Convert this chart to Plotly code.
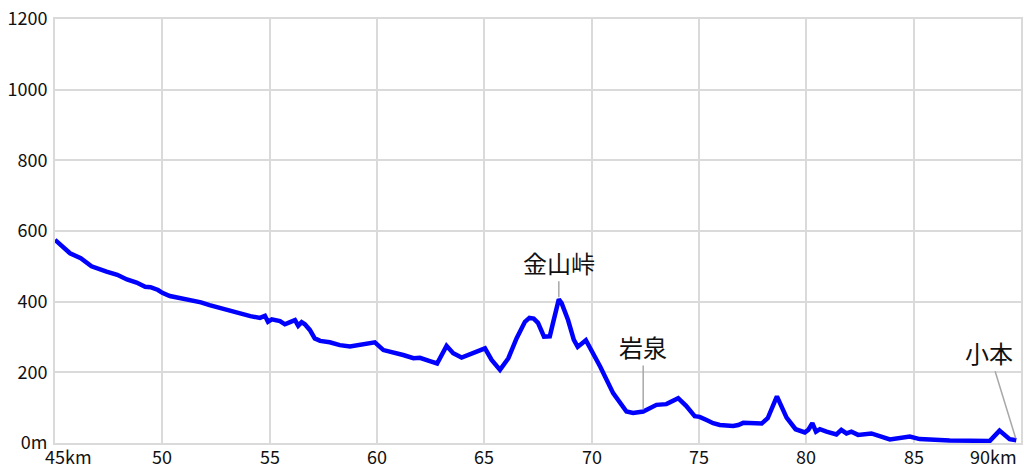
import plotly.graph_objects as go

# distance (km) and elevation (m)
dist_km = [45.0, 45.3, 45.5, 45.7, 46.2, 46.55, 46.7, 47.4, 47.9, 48.35, 48.8, 49.2, 49.45, 49.8,
           50.0, 50.35, 50.8, 51.3, 51.8, 52.2, 52.7, 53.15, 53.6, 54.1, 54.55, 54.78, 54.92,
           55.1, 55.48, 55.71, 55.95, 56.18, 56.33, 56.49, 56.64, 56.87, 57.1, 57.35, 57.8,
           58.27, 58.74, 59.2, 59.67, 59.9, 60.3, 60.76, 61.22, 61.7, 62.0, 62.46, 62.8,
           63.24, 63.55, 63.94, 64.48, 65.03, 65.34, 65.73, 66.12, 66.5, 66.89, 67.1, 67.3,
           67.5, 67.78, 68.05, 68.2, 68.47, 68.6, 68.9, 69.17, 69.35, 69.73, 70.0, 70.4,
           71.0, 71.62, 71.93, 72.4, 73.02, 73.48, 74.03, 74.4, 74.8, 75.03, 75.35, 75.66,
           75.97, 76.59, 76.83, 77.06, 77.92, 78.2, 78.63, 79.08, 79.5, 79.93, 80.09, 80.28,
           80.45, 80.63, 80.94, 81.4, 81.63, 81.87, 82.1, 82.41, 83.03, 83.42, 83.89, 84.82,
           85.28, 85.75, 86.68, 88.55, 89.0, 89.47, 89.78]
elev_m = [575, 560, 550, 537, 523, 509, 500, 485, 476, 463, 454, 442, 441, 433,
          425, 416, 411, 405, 398, 390, 382, 375, 365, 359, 354, 360, 343,
          350, 345, 336, 342, 348, 332, 342, 336, 320, 296, 289, 285,
          277, 273, 277, 280, 285, 263, 257, 249, 240, 241, 232, 225,
          275, 254, 242, 254, 268, 235, 207, 240, 296, 343, 354, 352,
          340, 301, 302, 340, 407, 396, 348, 292, 272, 291, 263, 216,
          141, 89, 85, 89, 108, 110, 127, 105, 76, 74, 65, 56,
          51, 48, 51, 57, 55, 70, 132, 72, 39, 30, 37, 56,
          32, 39, 32, 24, 37, 27, 32, 23, 27, 18, 10, 18,
          11, 10, 7, 6, 35, 11, 8]

# place labels
place_names = ["金山峠", "岩泉", "小本"]
place_km = [68.47, 72.4, 89.78]
place_elev = [407, 89, 8]
place_offsets = [(0, -37), (0, -65), (-27, -88)]

x_tick_vals = [45, 50, 55, 60, 65, 70, 75, 80, 85, 90]
x_tick_text = ["45km", "50", "55", "60", "65", "70", "75", "80", "85", "90km"]
y_tick_vals = [0, 200, 400, 600, 800, 1000, 1200]
y_tick_text = ["0m", "200", "400", "600", "800", "1000", "1200"]

FONT = "Noto Sans CJK JP"
GRID = "#dadada"

fig = go.Figure()
fig.add_trace(go.Scatter(x=dist_km, y=elev_m, mode="lines",
                         line=dict(color="#0000ff", width=4.5), hoverinfo="skip"))

annotations = []
for name, xk, ye, (ax, ay) in zip(place_names, place_km, place_elev, place_offsets):
    annotations.append(dict(x=xk, y=ye, xref="x", yref="y", text=name,
                            showarrow=True, arrowhead=0, arrowwidth=1.5, arrowcolor="#a8a8a8",
                            ax=ax, ay=ay, standoff=2,
                            font=dict(family=FONT, size=24, color="#111111")))
for i, (v, t) in enumerate(zip(x_tick_vals, x_tick_text)):
    if i == 0:
        anchor, shift = "left", -12
    elif i == len(x_tick_vals) - 1:
        anchor, shift = "right", -2
    else:
        anchor, shift = "center", 0
    annotations.append(dict(x=v, y=0, xref="x", yref="paper", text=t, showarrow=False,
                            xanchor=anchor, yanchor="top", xshift=shift, yshift=2,
                            font=dict(family=FONT, size=18, color="#111111")))

fig.update_layout(
    width=1024, height=476,
    margin=dict(l=55, r=3, t=19, b=33, autoexpand=False),
    paper_bgcolor="white", plot_bgcolor="white",
    showlegend=False,
    annotations=annotations,
    xaxis=dict(range=[45, 90], tickvals=x_tick_vals, showticklabels=False, automargin=False,
               showgrid=True, gridcolor=GRID, gridwidth=1.5, zeroline=False,
               showline=True, linecolor=GRID, linewidth=2, mirror=True, ticks=""),
    yaxis=dict(range=[0, 1200], tickvals=y_tick_vals, ticktext=y_tick_text, automargin=False,
               showgrid=True, gridcolor=GRID, gridwidth=1.5, zeroline=False,
               showline=True, linecolor=GRID, linewidth=2, mirror=True, ticks="",
               ticklabelstandoff=2,
               tickfont=dict(family=FONT, size=18, color="#111111")),
)

fig.write_html("out.html", config={"displayModeBar": False},
               post_script="document.body.style.margin='0';")
